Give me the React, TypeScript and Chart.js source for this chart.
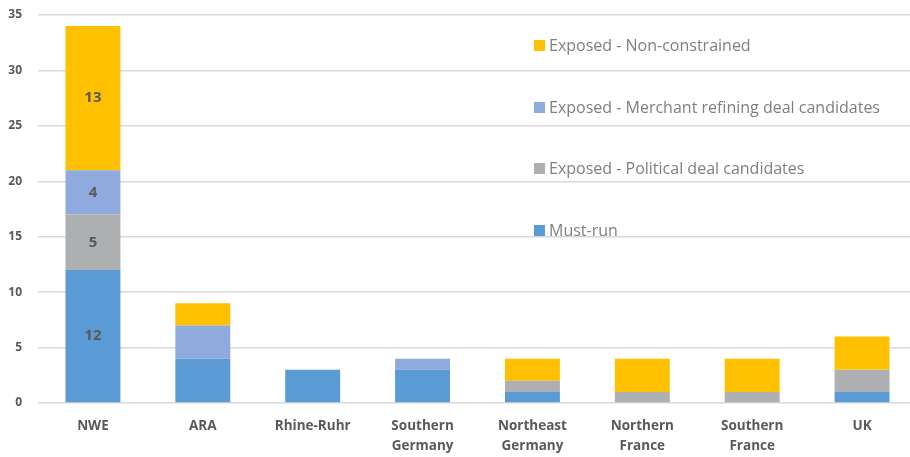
import React, { useEffect, useRef } from "react";
import { Chart, registerables } from "chart.js";

Chart.register(...registerables);

const categories: (string | string[])[] = [
  "NWE",
  "ARA",
  "Rhine-Ruhr",
  ["Southern", "Germany"],
  ["Northeast", "Germany"],
  ["Northern", "France"],
  ["Southern", "France"],
  "UK",
];

const mustRun = [12, 4, 3, 3, 1, 0, 0, 1];
const political = [5, 0, 0, 0, 1, 1, 1, 2];
const merchant = [4, 3, 0, 1, 0, 0, 0, 0];
const nonConstrained = [13, 2, 0, 0, 2, 3, 3, 3];

const seriesNames = [
  "Must-run",
  "Exposed - Political deal candidates",
  "Exposed - Merchant refining deal candidates",
  "Exposed - Non-constrained",
];
const seriesColors = ["#5B9BD5", "#AEAFB1", "#8FAADC", "#FFC000"];
const labelledCategory = 0; // only NWE shows value labels

const FONT = "'Open Sans', 'Liberation Sans', sans-serif";

const labelPlugin = {
  id: "nweLabels",
  afterDatasetsDraw(chart: any) {
    const ctx = chart.ctx;
    ctx.save();
    ctx.font = `bold 15px ${FONT}`;
    ctx.fillStyle = "#595959";
    ctx.textAlign = "center";
    ctx.textBaseline = "middle";
    chart.data.datasets.forEach((ds: any, i: number) => {
      const meta = chart.getDatasetMeta(i);
      const bar = meta.data[labelledCategory];
      const v = ds.data[labelledCategory];
      if (!bar || !v) return;
      const y = (bar.y + bar.base) / 2;
      ctx.fillText(String(v), bar.x, y);
    });
    ctx.restore();
  },
};

const legendPlugin = {
  id: "insideLegend",
  afterDraw(chart: any) {
    const ctx = chart.ctx;
    ctx.save();
    ctx.font = `16px ${FONT}`;
    ctx.textBaseline = "middle";
    ctx.textAlign = "left";
    const x = 534;
    const ys = [45, 107, 168, 230];
    const order = [3, 2, 1, 0];
    order.forEach((si, k) => {
      const y = ys[k];
      ctx.fillStyle = seriesColors[si];
      ctx.fillRect(x, y - 5, 11, 11);
      ctx.fillStyle = "#7F7F7F";
      ctx.fillText(seriesNames[si], x + 15, y + 1);
    });
    ctx.restore();
  },
};

export default function App() {
  const ref = useRef<HTMLCanvasElement | null>(null);
  useEffect(() => {
    if (!ref.current) return;
    const data = [mustRun, political, merchant, nonConstrained];
    const chart = new Chart(ref.current, {
      type: "bar",
      data: {
        labels: categories as any,
        datasets: data.map((d, i) => ({
          label: seriesNames[i],
          data: d,
          backgroundColor: seriesColors[i],
          borderWidth: 0,
          barPercentage: 0.5,
          categoryPercentage: 1,
        })),
      },
      options: {
        animation: false,
        responsive: false,
        layout: { padding: { top: 15, right: 0, left: 0, bottom: 0 } },
        plugins: {
          legend: { display: false },
          tooltip: { enabled: false },
        },
        scales: {
          x: {
            stacked: true,
            afterFit(scale: any) {
              scale.height = 54;
            },
            grid: { display: false },
            border: { display: false },
            ticks: {
              color: "#595959",
              font: { family: FONT, size: 13.5, weight: "bold", lineHeight: 1.48 },
              padding: 5,
              maxRotation: 0,
              autoSkip: false,
            },
          },
          y: {
            stacked: true,
            min: 0,
            max: 35,
            afterFit(scale: any) {
              scale.width = 38;
              scale.paddingTop = 0;
              scale.paddingBottom = 0;
            },
            grid: { color: "#D9D9D9", lineWidth: 1.5, drawTicks: false },
            border: { display: false },
            ticks: {
              stepSize: 5,
              color: "#595959",
              font: { family: FONT, size: 12, weight: "bold" },
              padding: 16,
            },
          },
        },
      },
      plugins: [labelPlugin, legendPlugin],
    });
    return () => chart.destroy();
  }, []);
  return (
    <div style={{ position: "fixed", left: 0, top: 0, width: 910, height: 457, overflow: "hidden", background: "#fff" }}>
      <canvas ref={ref} width={917} height={457} style={{ width: 917, height: 457, display: "block" }} />
    </div>
  );
}
